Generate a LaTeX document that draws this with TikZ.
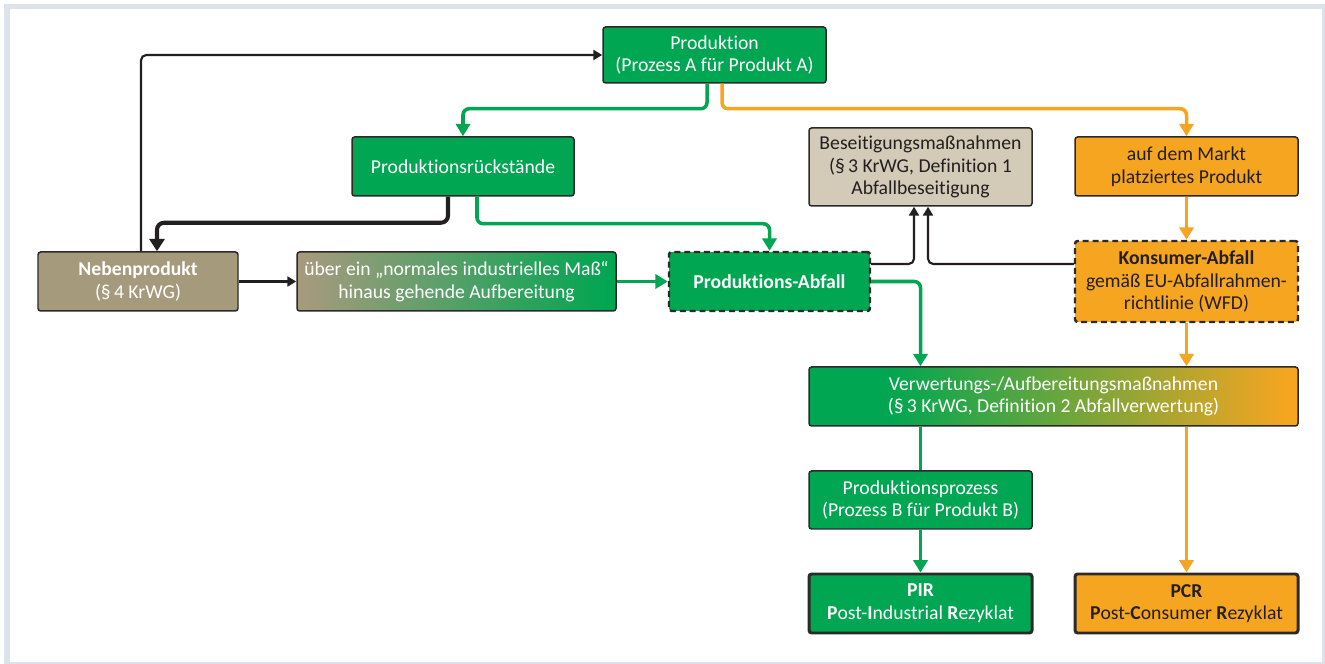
\documentclass[tikz,border=0pt]{standalone}
\usepackage{fontspec}
\setmainfont{Carlito}[Ligatures=NoCommon]
\usetikzlibrary{arrows.meta,calc}

\begin{document}
\begin{tikzpicture}[x=0.2mm,y=-0.2mm,
  box/.style={rectangle, rounded corners=1.5pt, draw=colRand, line width=0.85pt,
    align=center, inner sep=0pt, text=white, font=\fontsize{11.2}{12.9}\selectfont},
  groesse/.style 2 args={minimum width=#1*0.2mm, minimum height=#2*0.2mm},
  gruenBox/.style={box, fill=colGruen},
  orangeBox/.style={box, fill=colOrange, text=colText},
  gestrichelt/.style={line width=1.4pt, dash pattern=on 3.4pt off 2.2pt},
  endBox/.style={line width=1.7pt},
  gruenLinie/.style={draw=colGruen, line width=2pt, rounded corners=3.5pt},
  gruenPfeil/.style={gruenLinie, -{Triangle[width=8pt,length=7pt]}},
  orangePfeil/.style={draw=colOrange, line width=2pt, rounded corners=3.5pt,
    -{Triangle[width=8pt,length=7pt]}},
  schwarzDuenn/.style={draw=colText, line width=1.2pt, rounded corners=3pt,
    -{Triangle[width=5.6pt,length=5pt]}},
  schwarzDick/.style={draw=colText, line width=2.3pt, rounded corners=4pt,
    -{Triangle[width=8.5pt,length=7pt]}}
]

% Farben
\definecolor{colGruen}{HTML}{00A651}
\definecolor{colOrange}{HTML}{F6A521}
\definecolor{colBraun}{HTML}{A69A7D}
\definecolor{colBeige}{HTML}{D3CAB8}
\definecolor{colRand}{HTML}{2B2A29}
\definecolor{colText}{HTML}{231F20}
\definecolor{colFrame}{HTML}{DCE3EA}

% Verlaeufe (Box = 25bp bis 75bp)
\pgfdeclarehorizontalshading{ueberVerlauf}{100bp}{color(0bp)=(colBraun); color(26bp)=(colBraun); color(74bp)=(colGruen); color(100bp)=(colGruen)}
\pgfdeclarehorizontalshading{verwVerlauf}{100bp}{color(0bp)=(colGruen); color(33bp)=(colGruen); color(74bp)=(colOrange); color(100bp)=(colOrange)}

% Rahmen
\useasboundingbox (0,0) rectangle (1325,664);
\fill[colFrame] (4,4) rectangle (1325,664);
\fill[white] (10,9) rectangle (1322,662);

% Knoten
\node[gruenBox, groesse={223}{56}] (prod) at (714.5,55) {Produktion\\(Prozess A für Produkt A)};
\node[gruenBox, groesse={222}{59}] (rueck) at (463,166.5) {Produktionsrückstände};
\node[box, fill=colBraun, groesse={200}{59}] (neben) at (138,281.5) {\textbf{Nebenprodukt}\\(§\,4 KrWG)};
\node[box, shading=ueberVerlauf, groesse={319}{59}] (ueber) at (456.5,281.5) {über ein „normales industrielles Maß“\\hinaus gehende Aufbereitung};
\node[gruenBox, gestrichelt, groesse={201}{59}] (pabf) at (769.5,281.5) {\textbf{Produktions-Abfall}};
\node[box, fill=colBeige, text=colText, groesse={223}{78}] (beseit) at (920.5,167) {Beseitigungsmaßnahmen\\(§\,3 KrWG, Definition 1\\Abfallbeseitigung};
\node[orangeBox, groesse={223}{59}] (markt) at (1186.5,166.5) {auf dem Markt\\platziertes Produkt};
\node[orangeBox, gestrichelt, groesse={223}{81}] (konsum) at (1186.5,281.5) {\textbf{Konsumer-Abfall}\\gemäß EU-Abfallrahmen-\\richtlinie (WFD)};
\node[box, shading=verwVerlauf, groesse={489}{59}] (verw) at (1053.5,396.5) {Verwertungs-/Aufbereitungsmaßnahmen\\(§\,3 KrWG, Definition 2 Abfallverwertung)};
\node[gruenBox, groesse={223}{58}] (prozess) at (920.5,500) {Produktionsprozess\\(Prozess B für Produkt B)};
\node[gruenBox, endBox, groesse={223}{59}] (pir) at (920.5,603.5) {\textbf{PIR}\\\textbf{P}ost-\textbf{I}ndustrial \textbf{R}ezyklat};
\node[orangeBox, endBox, groesse={223}{59}] (pcr) at (1186.5,603.5) {\textbf{PCR}\\\textbf{P}ost-\textbf{C}onsumer \textbf{R}ezyklat};

% Verbindungen
\draw[schwarzDuenn] ($(neben.north)+(3,0)$) |- (prod.west);
\draw[gruenPfeil] ($(prod.south)+(-7.5,0)$) -- ++(0,25) -| (rueck.north);
\draw[orangePfeil] ($(prod.south)+(7.5,0)$) -- ++(0,25) -| (markt.north);
\draw[schwarzDick] ($(rueck.south)+(-15,0)$) -- ++(0,26) -| ($(neben.north)+(19,0)$);
\draw[gruenPfeil] ($(rueck.south)+(14,0)$) -- ++(0,27) -| (pabf.north);
\draw[schwarzDuenn] (neben) -- (ueber);
\draw[gruenPfeil] (ueber) -- (pabf);
\draw[schwarzDuenn] ($(pabf.east)+(0,-17.5)$) -| ($(beseit.south)+(-6.5,0)$);
\draw[schwarzDuenn] ($(konsum.west)+(0,-17.5)$) -| ($(beseit.south)+(7.5,0)$);
\draw[gruenPfeil] (pabf.east) -| (prozess.north |- verw.north);
\draw[orangePfeil] (markt) -- (konsum);
\draw[orangePfeil] (konsum) -- (verw.north -| konsum);
\draw[gruenLinie] (verw.south -| prozess) -- (prozess);
\draw[gruenPfeil] (prozess) -- (pir);
\draw[orangePfeil] (verw.south -| pcr) -- (pcr);

\end{tikzpicture}
\end{document}
